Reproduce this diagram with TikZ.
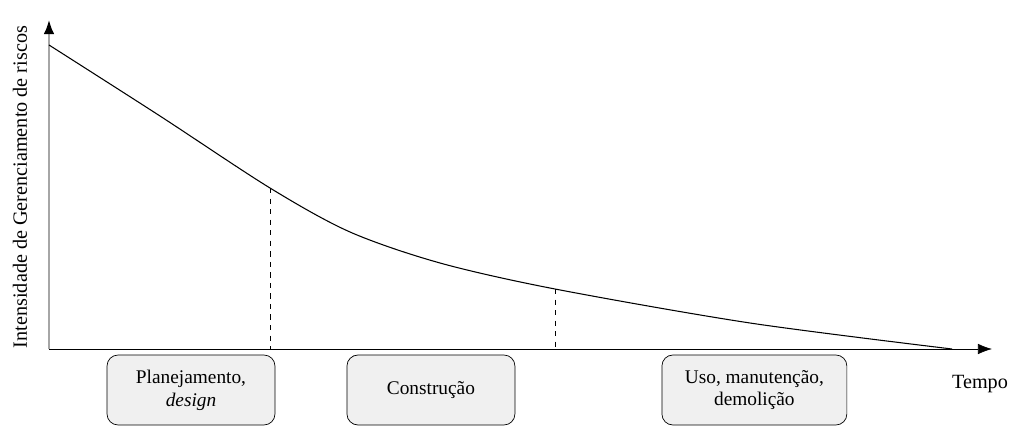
\documentclass[tikz,border=0pt]{standalone}
\usepackage{fontspec}
\setmainfont{Liberation Serif}
\usepackage{tikz}
\usetikzlibrary{arrows.meta}
\frenchspacing
\tikzstyle{phase} = [rectangle, rounded corners=0.22cm, minimum width=3.36cm, minimum height=1.4cm, align=center, draw=black, fill=gray!12, font=\fontsize{11}{13}\selectfont]
\tikzstyle{arrow} = [-{Latex[length=8pt,width=6pt,black]}]
\tikzstyle{lbl} = [font=\fontsize{11.5}{13}\selectfont]

\begin{document}
\begin{tikzpicture}[x=0.02cm, y=-0.02cm, node distance=1.5cm]
\useasboundingbox (0,0) rectangle (1015,432);

\coordinate (o) at (49,349);
\coordinate (ytop) at (49,20);
\coordinate (xend) at (992,349);
\coordinate (p1) at (270,188);
\coordinate (p2) at (555,289);

\draw [arrow, draw=gray!70, line width=1pt] (o) -- (ytop);
\draw [arrow] (o) -- (xend);

\node (ylab) [lbl, rotate=90] at (20,187) {Intensidade de Gerenciamento de riscos};
\node (tempo) [lbl] at (980,384) {Tempo};

% curva
\draw [line width=0.6pt] plot[smooth, tension=0.5] coordinates {(49,45) (160,116) (p1) (350,232) (440,263) (p2) (750,323) (952,349)};

\draw [dashed] (p1) -- (p1 |- o);
\draw [dashed] (p2) -- (p2 |- o);

\node (plan) [phase] at (191,390) {Planejamento,\\ \textit{design}};
\node (cons) [phase, right of=plan, xshift=3.3cm] {Construção};
\node (uso) [phase, right of=cons, xshift=4.97cm, minimum width=3.7cm] {Uso, manutenção,\\ demolição};

\end{tikzpicture}
\end{document}
